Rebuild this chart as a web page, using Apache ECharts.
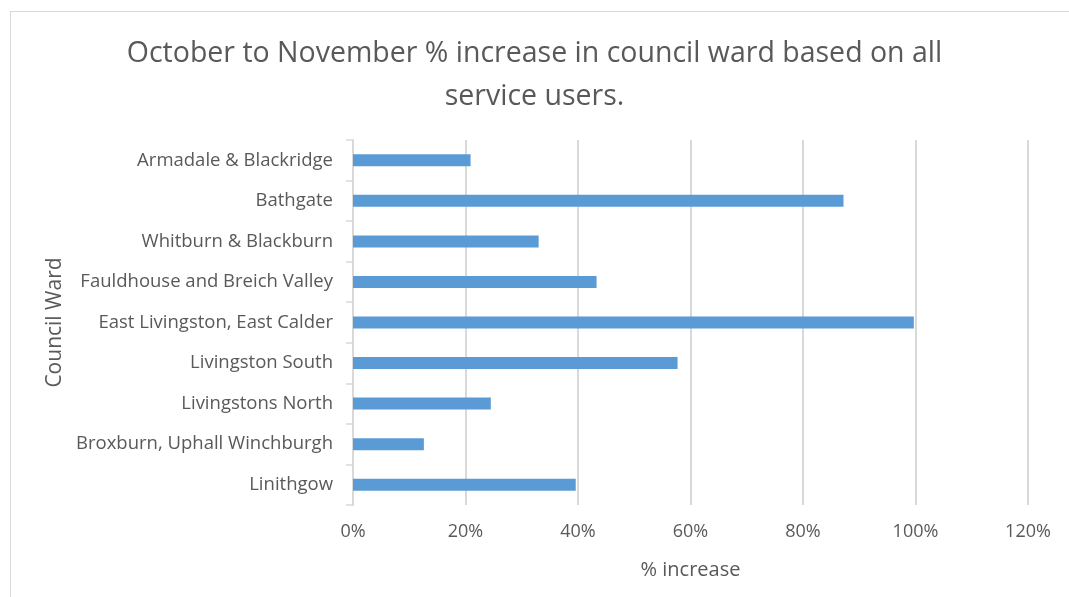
<!DOCTYPE html>
<html><head><meta charset="utf-8">
<script src="https://cdn.jsdelivr.net/npm/echarts@6/dist/echarts.min.js"></script>
<style>
html,body{margin:0;padding:0;background:#fff;}
#frame{position:absolute;left:10px;top:11px;width:1070px;height:600px;border:1px solid #d9d9d9;box-sizing:border-box;}
#c{position:absolute;left:0;top:0;width:1069px;height:597px;}
</style></head>
<body>
<div id="frame"></div>
<div id="c"></div>
<script>
const titleText = "October to November % increase in council ward based on all\nservice users.";
const categories = ["Armadale & Blackridge","Bathgate","Whitburn & Blackburn","Fauldhouse and Breich Valley","East Livingston, East Calder","Livingston South","Livingstons North","Broxburn, Uphall Winchburgh","Linithgow"];
const values = [0.209, 0.872, 0.330, 0.433, 0.997, 0.577, 0.245, 0.126, 0.396];
const xTicks = {min: 0, max: 1.2, interval: 0.2};
const xName = "% increase";
const yName = "Council Ward";

const chart = echarts.init(document.getElementById('c'), null, {renderer:'canvas'});
const ff = "'Open Sans', 'Noto Sans', sans-serif";
chart.setOption({
  animation:false,
  title:{text:titleText,left:'center',top:27,textStyle:{fontFamily:ff,fontSize:28.5,fontWeight:'normal',color:'#595959',lineHeight:43}},
  grid:{left:353,right:41,top:140,bottom:92,containLabel:false},
  xAxis:{type:'value',min:xTicks.min,max:xTicks.max,interval:xTicks.interval,
    name:xName,nameLocation:'middle',nameGap:55,nameTextStyle:{fontFamily:ff,fontSize:20,color:'#595959'},
    axisLabel:{formatter:v=>Math.round(v*100)+'%',fontFamily:ff,fontSize:18,color:'#595959',margin:18},
    axisLine:{show:false},axisTick:{show:false},
    splitLine:{lineStyle:{color:'#d9d9d9',width:2}}},
  yAxis:{type:'category',data:categories,inverse:true,
    name:yName,nameLocation:'middle',nameGap:286,nameRotate:90,nameTextStyle:{fontFamily:ff,fontSize:21,color:'#595959'},
    axisLabel:{fontFamily:ff,fontSize:18.5,color:'#595959',margin:20},
    axisLine:{lineStyle:{color:'#d9d9d9',width:2}},
    axisTick:{show:true,length:7,lineStyle:{color:'#d9d9d9',width:1.5}}},
  series:[{type:'bar',data:values,barWidth:12,itemStyle:{color:'#5b9bd5'}}]
});
</script>
</body></html>
